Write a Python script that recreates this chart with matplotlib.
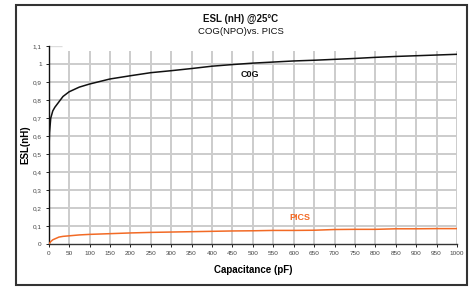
import matplotlib
matplotlib.use("Agg")
import matplotlib.pyplot as plt
from matplotlib.patches import Rectangle

plt.rcParams['font.family'] = ['Liberation Sans', 'DejaVu Sans']

capacitance = [1, 2, 5, 10, 15, 20, 25, 35, 50, 75, 100, 150, 200, 250, 300, 350, 400,
               450, 500, 550, 600, 650, 700, 750, 800, 850, 900, 950, 1000]
esl_c0g = [0.55, 0.62, 0.70, 0.74, 0.76, 0.775, 0.79, 0.82, 0.846, 0.872, 0.889, 0.917,
           0.935, 0.952, 0.963, 0.975, 0.988, 0.997, 1.005, 1.011, 1.017, 1.021, 1.026,
           1.031, 1.037, 1.042, 1.046, 1.050, 1.054]
esl_pics = [0.0, 0.005, 0.015, 0.025, 0.030, 0.035, 0.040, 0.044, 0.047, 0.052, 0.055,
            0.059, 0.063, 0.066, 0.068, 0.070, 0.072, 0.074, 0.075, 0.077, 0.077, 0.078,
            0.082, 0.083, 0.083, 0.086, 0.086, 0.087, 0.087]
x_ticks = list(range(0, 1001, 50))
y_ticks = [0, 0.1, 0.2, 0.3, 0.4, 0.5, 0.6, 0.7, 0.8, 0.9, 1.0, 1.1]
y_tick_labels = ['0', '0,1', '0,2', '0,3', '0,4', '0,5', '0,6', '0,7', '0,8', '0,9', '1', '1,1']

W, H = 475, 287
fig = plt.figure(figsize=(W / 100, H / 100), dpi=100)
fig.patch.set_facecolor('white')

# outer frame
fig.patches.append(Rectangle((16 / W, 1 - 285 / H), (467 - 16) / W, (285 - 5) / H,
                             transform=fig.transFigure, fill=False,
                             edgecolor='#333333', linewidth=1.5))

ax = fig.add_axes([48.7 / W, 1 - 244.3 / H, (457 - 48.7) / W, (244.3 - 46) / H])
ax.set_xlim(0, 1000)
ax.set_ylim(0, 1.1)

grid_c = '#cccccc'
ax.vlines(x_ticks[1:], 0, 1.075, colors=grid_c, linewidth=1.4, zorder=0)
ax.hlines(y_ticks[1:-1], 0, 1000, colors=grid_c, linewidth=1.4, zorder=0)
ax.hlines(y_ticks[-1], 0, 32, colors='#dddddd', linewidth=1.0, zorder=0)

ax.plot(capacitance, esl_c0g, color='#111111', linewidth=1.1, zorder=3)
ax.plot(capacitance, esl_pics, color='#f26a25', linewidth=1.1, zorder=3)

ax.text(493, 0.94, 'C0G', fontsize=6.5, fontweight='bold', color='#111111',
        ha='center', va='center')
ax.text(614, 0.148, 'PICS', fontsize=6.5, fontweight='bold', color='#f26a25',
        ha='center', va='center')

for s in ['top', 'right']:
    ax.spines[s].set_visible(False)
ax.spines['left'].set_color('#111111')
ax.spines['bottom'].set_color('#333333')
ax.spines['left'].set_linewidth(1.0)
ax.spines['bottom'].set_linewidth(1.0)

ax.set_xticks(x_ticks)
ax.set_xticklabels([str(v) for v in x_ticks])
ax.set_yticks(y_ticks)
ax.set_yticklabels(y_tick_labels)
ax.tick_params(axis='both', labelsize=4.6, colors='#222222', length=2.5, width=0.7,
               pad=2.5, labelcolor='#444444')

ax.set_xlabel('Capacitance (pF)', fontsize=7, fontweight='bold')
ax.xaxis.set_label_coords(0.5, (244.3 - 270) / (244.3 - 46))
ax.set_ylabel('ESL(nH)', fontsize=7, fontweight='bold')
ax.yaxis.set_label_coords((25 - 48.7) / (457 - 48.7), (244.3 - 145) / (244.3 - 46))
ax.xaxis.label.set_va('center')
ax.yaxis.label.set_va('center')

fig.text(241 / W, 1 - 19 / H, 'ESL (nH) @25°C', fontsize=7, fontweight='bold',
         ha='center', va='center', color='#111111')
fig.text(241 / W, 1 - 31 / H, 'COG(NPO)vs. PICS', fontsize=6.8,
         ha='center', va='center', color='#111111')

fig.savefig('out.png', dpi=100)
